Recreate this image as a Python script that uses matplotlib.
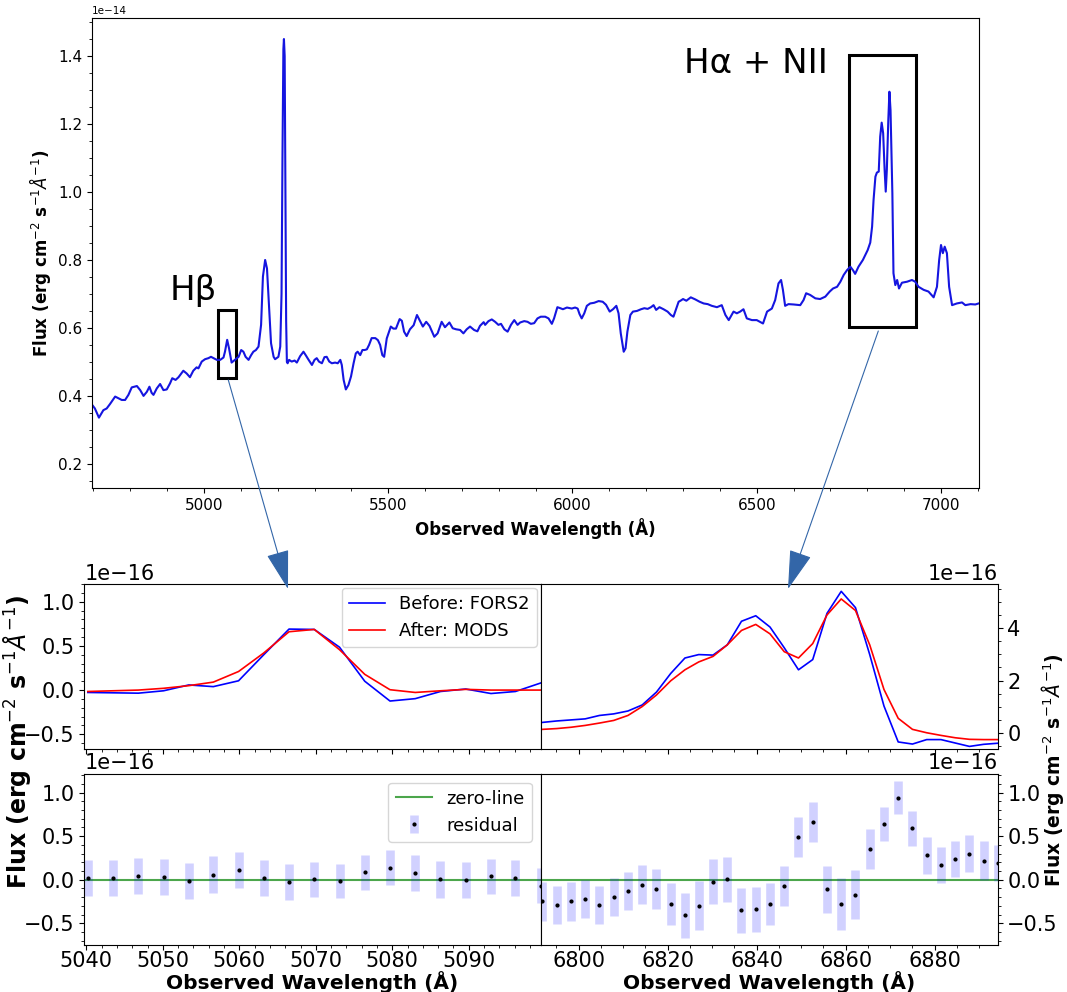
import numpy as np
import matplotlib.pyplot as plt
from matplotlib.patches import Rectangle, FancyArrowPatch
from matplotlib.ticker import MultipleLocator

W, H = 1067, 992

# full FORS2 spectrum (flux in 1e-14 erg/cm2/s/A)
wave_full = [
    4697, 4704, 4715, 4727, 4736, 4745, 4759, 4768, 4777, 4786,
    4795, 4804, 4818, 4827, 4836, 4845, 4852, 4858, 4863, 4872,
    4881, 4890, 4899, 4908, 4914, 4923, 4931, 4940, 4944, 4953,
    4962, 4971, 4980, 4985, 4994, 5003, 5012, 5019, 5026, 5035,
    5044, 5053, 5057, 5063, 5068, 5075, 5084, 5094, 5101, 5107,
    5113, 5121, 5128, 5134, 5141, 5148, 5155, 5160, 5166, 5171,
    5177, 5182, 5189, 5193, 5202, 5207, 5210.5, 5213, 5215.5, 5217,
    5219, 5221, 5223, 5225, 5227, 5231, 5238, 5246, 5252, 5261,
    5270, 5276, 5284, 5293, 5300, 5306, 5312, 5320, 5327, 5333,
    5340, 5347, 5356, 5363, 5370, 5374, 5379, 5385, 5392, 5399,
    5406, 5412, 5417, 5424, 5430, 5436, 5442, 5448, 5455, 5465,
    5472, 5478, 5484, 5489, 5496, 5507, 5514, 5521, 5531, 5537,
    5543, 5550, 5559, 5569, 5578, 5585, 5594, 5603, 5612, 5625,
    5634, 5645, 5654, 5666, 5675, 5684, 5695, 5704, 5713, 5722,
    5733, 5742, 5749, 5759, 5763, 5772, 5781, 5790, 5799, 5806,
    5815, 5824, 5833, 5842, 5851, 5858, 5869, 5878, 5887, 5896,
    5905, 5914, 5926, 5935, 5944, 5950, 5959, 5967, 5974, 5985,
    5998, 6007, 6014, 6019, 6025, 6032, 6039, 6048, 6059, 6071,
    6082, 6091, 6101, 6110, 6119, 6125, 6131, 6139, 6144, 6149,
    6157, 6164, 6175, 6186, 6195, 6204, 6213, 6220, 6227, 6236,
    6247, 6258, 6267, 6274, 6282, 6288, 6293, 6300, 6309, 6321,
    6333, 6345, 6356, 6367, 6378, 6392, 6405, 6415, 6424, 6437,
    6446, 6455, 6464, 6473, 6487, 6500, 6517, 6528, 6541, 6550,
    6559, 6566, 6571, 6577, 6586, 6600, 6618, 6627, 6634, 6645,
    6659, 6672, 6686, 6698, 6707, 6718, 6727, 6736, 6745, 6754,
    6761, 6767, 6776, 6788, 6801, 6808, 6813, 6817, 6822, 6826,
    6831, 6835, 6839, 6843, 6847, 6850, 6853, 6857, 6860, 6863,
    6868, 6871, 6876, 6881, 6886, 6894, 6908, 6921, 6930, 6939,
    6953, 6966, 6980, 6989, 6995, 7000, 7005, 7010, 7016, 7022,
    7030, 7043, 7057, 7066, 7080, 7093, 7102,
]
flux_full = [
    .373, .363, .336, .358, .363, .376, .398, .393, .388, .388,
    .403, .425, .429, .417, .400, .412, .427, .409, .403, .422,
    .435, .417, .419, .437, .452, .447, .455, .468, .474, .466,
    .455, .474, .484, .481, .501, .508, .511, .515, .511, .506,
    .506, .513, .530, .565, .540, .498, .506, .515, .535, .530,
    .515, .506, .520, .530, .535, .545, .609, .751, .800, .775,
    .653, .555, .515, .508, .515, .545, .700, 1.10, 1.42, 1.45,
    1.40, 1.00, .620, .500, .496, .506, .501, .504, .498, .517,
    .530, .520, .506, .491, .506, .511, .501, .496, .514, .515,
    .501, .496, .498, .496, .506, .491, .447, .419, .432, .457,
    .496, .525, .530, .520, .535, .535, .537, .550, .570, .570,
    .564, .550, .520, .515, .569, .604, .598, .598, .626, .621,
    .589, .576, .596, .608, .638, .623, .604, .618, .606, .574,
    .584, .618, .602, .616, .599, .596, .594, .584, .596, .604,
    .594, .590, .606, .617, .609, .620, .625, .618, .609, .612,
    .596, .589, .609, .623, .609, .616, .620, .618, .612, .614,
    .628, .633, .633, .628, .612, .628, .661, .658, .655, .660,
    .657, .660, .657, .641, .628, .643, .665, .672, .674, .679,
    .677, .668, .648, .655, .665, .643, .584, .530, .540, .589,
    .638, .648, .650, .655, .658, .656, .661, .667, .653, .661,
    .655, .648, .638, .633, .658, .677, .680, .685, .680, .690,
    .684, .677, .672, .670, .665, .661, .667, .638, .623, .648,
    .643, .648, .655, .628, .623, .623, .613, .648, .657, .682,
    .731, .741, .712, .665, .670, .669, .667, .682, .702, .697,
    .687, .685, .692, .707, .716, .721, .736, .756, .770, .780,
    .770, .759, .780, .800, .829, .851, .898, .977, 1.045, 1.057,
    1.060, 1.163, 1.204, 1.173, 1.065, 1.001, 1.065, 1.212, 1.295, 1.241,
    .996, .761, .726, .741, .716, .733, .736, .741, .736, .721,
    .712, .707, .690, .721, .800, .844, .820, .839, .820, .721,
    .667, .672, .675, .667, .670, .669, .672,
]

# H-beta window (flux in 1e-16)
wave_hb = [5040.2, 5043.5, 5046.8, 5050.1, 5053.4, 5056.6, 5059.9, 5063.2,
           5066.5, 5069.8, 5073.1, 5076.4, 5079.7, 5083.0, 5086.3, 5089.6,
           5092.9, 5096.1, 5099.4]
fors2_hb = [-0.027, -0.031, -0.035, -0.008, 0.058, 0.039, 0.105, 0.40, 0.69,
            0.686, 0.485, 0.10, -0.124, -0.097, -0.016, 0.012, -0.039,
            -0.016, 0.08]
mods_hb = [-0.016, -0.008, 0.0, 0.02, 0.05, 0.09, 0.21, 0.42, 0.66, 0.686,
           0.457, 0.178, 0.004, -0.027, -0.008, 0.008, 0.0, 0.0, 0.0]
resid_hb = [0.02, 0.02, 0.04, 0.028, -0.012, 0.06, 0.115, 0.02, -0.028,
            0.004, -0.016, 0.084, 0.135, 0.076, 0.004, 0.0, 0.04, 0.02,
            -0.068]
err_hb = [0.205, 0.207, 0.205, 0.207, 0.205, 0.207, 0.209, 0.203, 0.203,
          0.201, 0.199, 0.197, 0.201, 0.203, 0.209, 0.207, 0.203, 0.203,
          0.200]

# H-alpha + [NII] window (flux in 1e-16)
wave_ha = [6791.9, 6795.1, 6798.3, 6801.5, 6804.7, 6807.9, 6811.1, 6814.3,
           6817.5, 6820.7, 6823.9, 6827.0, 6830.2, 6833.4, 6836.6, 6839.8,
           6843.0, 6846.2, 6849.4, 6852.6, 6855.8, 6859.0, 6862.2, 6865.4,
           6868.6, 6871.8, 6875.0, 6878.2, 6881.4, 6884.6, 6887.8, 6891.0,
           6894.1]
fors2_ha = [0.405, 0.46, 0.50, 0.54, 0.67, 0.73, 0.84, 1.07, 1.56, 2.27,
            2.86, 2.99, 2.97, 3.36, 4.26, 4.47, 4.04, 3.25, 2.41, 2.80, 4.56,
            5.40, 4.78, 2.99, 1.03, -0.34, -0.42, -0.25, -0.25, -0.38, -0.51,
            -0.43, -0.39]
mods_ha = [0.14, 0.17, 0.22, 0.29, 0.38, 0.48, 0.67, 1.01, 1.45, 1.99, 2.41,
           2.71, 2.92, 3.36, 3.91, 4.14, 3.78, 3.10, 2.86, 3.41, 4.50, 5.11,
           4.67, 3.36, 1.66, 0.56, 0.14, 0.01, -0.09, -0.18, -0.24, -0.25,
           -0.25]
resid_ha = [-0.25, -0.29, -0.25, -0.22, -0.29, -0.20, -0.13, -0.056, -0.11,
            -0.28, -0.41, -0.30, -0.024, 0.004, -0.35, -0.34, -0.28, -0.07,
            0.49, 0.66, -0.11, -0.28, -0.17, 0.35, 0.64, 0.94, 0.59, 0.28,
            0.17, 0.24, 0.30, 0.22, 0.19]
err_ha = [0.22, 0.22, 0.22, 0.22, 0.22, 0.22, 0.22, 0.22, 0.23, 0.24, 0.26,
          0.28, 0.26, 0.26, 0.26, 0.26, 0.24, 0.23, 0.23, 0.23, 0.27, 0.30,
          0.28, 0.23, 0.20, 0.19, 0.20, 0.21, 0.21, 0.21, 0.21, 0.22, 0.21]

flux_label = r'Flux (erg cm$^{-2}$ s$^{-1}\AA^{-1}$)'
arrow_col = '#3366a8'


def box(l, t, r, b):
    # axes rectangle from pixel edges
    return [l / W, 1 - b / H, (r - l) / W, (b - t) / H]


def fpos(x, y):
    return (x / W, 1 - y / H)


fig = plt.figure(figsize=(W / 100, H / 100), dpi=100)

# ---- full spectrum ----
ax = fig.add_axes(box(92.3, 18.3, 978.6, 488))
ax.plot(wave_full, np.array(flux_full) * 1e-14, color='#1515e0', lw=1.5)
ax.set_xlim(4697, 7102)
ax.set_ylim(0.129e-14, 1.511e-14)
ax.minorticks_on()
ax.tick_params(labelsize=11)
ax.yaxis.get_offset_text().set_fontsize(7.5)
ax.set_xlabel('Observed Wavelength (Å)', fontsize=12, fontweight='bold')
ax.set_ylabel(flux_label, fontsize=12, fontweight='bold')

ax.add_patch(Rectangle((5037, 0.453e-14), 51, 0.2e-14, fill=False,
                       lw=2.2, ec='black'))
ax.add_patch(Rectangle((6750, 0.604e-14), 181, 0.8e-14, fill=False,
                       lw=2.2, ec='black'))
ax.text(4908, 0.681e-14, 'Hβ', fontsize=24.5, va='baseline')
ax.text(6303, 1.351e-14, 'Hα + NII', fontsize=24.5, va='baseline')

# ---- zoomed windows ----
ax_ul = fig.add_axes(box(84.4, 584, 540.7, 749.3))
ax_ur = fig.add_axes(box(540.7, 584, 997.5, 749.3))
ax_ll = fig.add_axes(box(84.4, 773.5, 540.7, 944.6), sharex=ax_ul)
ax_lr = fig.add_axes(box(540.7, 773.5, 997.5, 944.6), sharex=ax_ur,
                     sharey=ax_ll)

for a, w, before, after in [(ax_ul, wave_hb, fors2_hb, mods_hb),
                            (ax_ur, wave_ha, fors2_ha, mods_ha)]:
    a.plot(w, np.array(before) * 1e-16, color='b', lw=1.2,
           label='Before: FORS2')
    a.plot(w, np.array(after) * 1e-16, color='r', lw=1.2,
           label='After: MODS')

for a, w, res, err in [(ax_ll, wave_hb, resid_hb, err_hb),
                       (ax_lr, wave_ha, resid_ha, err_ha)]:
    a.axhline(0, color='g', alpha=0.7, lw=1.5, label='zero-line')
    a.errorbar(w, np.array(res) * 1e-16, yerr=np.array(err) * 1e-16,
               fmt='.', color='k', ms=4, ecolor=(0, 0, 1, 0.18),
               elinewidth=6.2, capsize=0, label='residual')

ax_ul.set_xlim(5039.75, 5099.4)
ax_ur.set_xlim(6791.5, 6894.1)
ax_ul.set_ylim(-0.67e-16, 1.2e-16)
ax_ur.set_ylim(-0.62e-16, 5.68e-16)
ax_ll.set_ylim(-0.745e-16, 1.22e-16)
ax_ul.yaxis.set_major_locator(MultipleLocator(0.5e-16))
ax_ur.yaxis.set_major_locator(MultipleLocator(2e-16))
ax_ll.yaxis.set_major_locator(MultipleLocator(0.5e-16))

for a in (ax_ul, ax_ur, ax_ll, ax_lr):
    a.minorticks_on()
    a.tick_params(labelsize=15)
    a.tick_params(axis='x', pad=1)
    a.yaxis.get_offset_text().set_fontsize(15)
for a in (ax_ur, ax_lr):
    a.yaxis.tick_right()
for a in (ax_ul, ax_ur):
    a.tick_params(labelbottom=False)
for a in (ax_ll, ax_lr):
    a.set_xlabel('Observed Wavelength (Å)', fontsize=14.5,
                 fontweight='bold', labelpad=0)

ax_ul.legend(loc='upper right', fontsize=13, borderaxespad=0.2)
ax_ll.legend(loc='upper right', fontsize=13)

fig.text(*fpos(17, 742), flux_label, rotation=90, fontsize=17,
         fontweight='bold', ha='center', va='center')
fig.text(*fpos(1053, 770), flux_label, rotation=90, fontsize=13.5,
         fontweight='bold', ha='center', va='center')

# connectors from the boxes to the zoomed windows
for start, end in [((228.3, 380), (288, 589)), ((878.3, 331), (788, 589))]:
    fig.add_artist(FancyArrowPatch(
        fpos(*start), fpos(*end), transform=fig.transFigure,
        arrowstyle='-|>,head_length=25,head_width=7.2', mutation_scale=1,
        color=arrow_col, lw=0.8, shrinkA=0, shrinkB=0, zorder=5))

fig.savefig('out.png', dpi=100)
